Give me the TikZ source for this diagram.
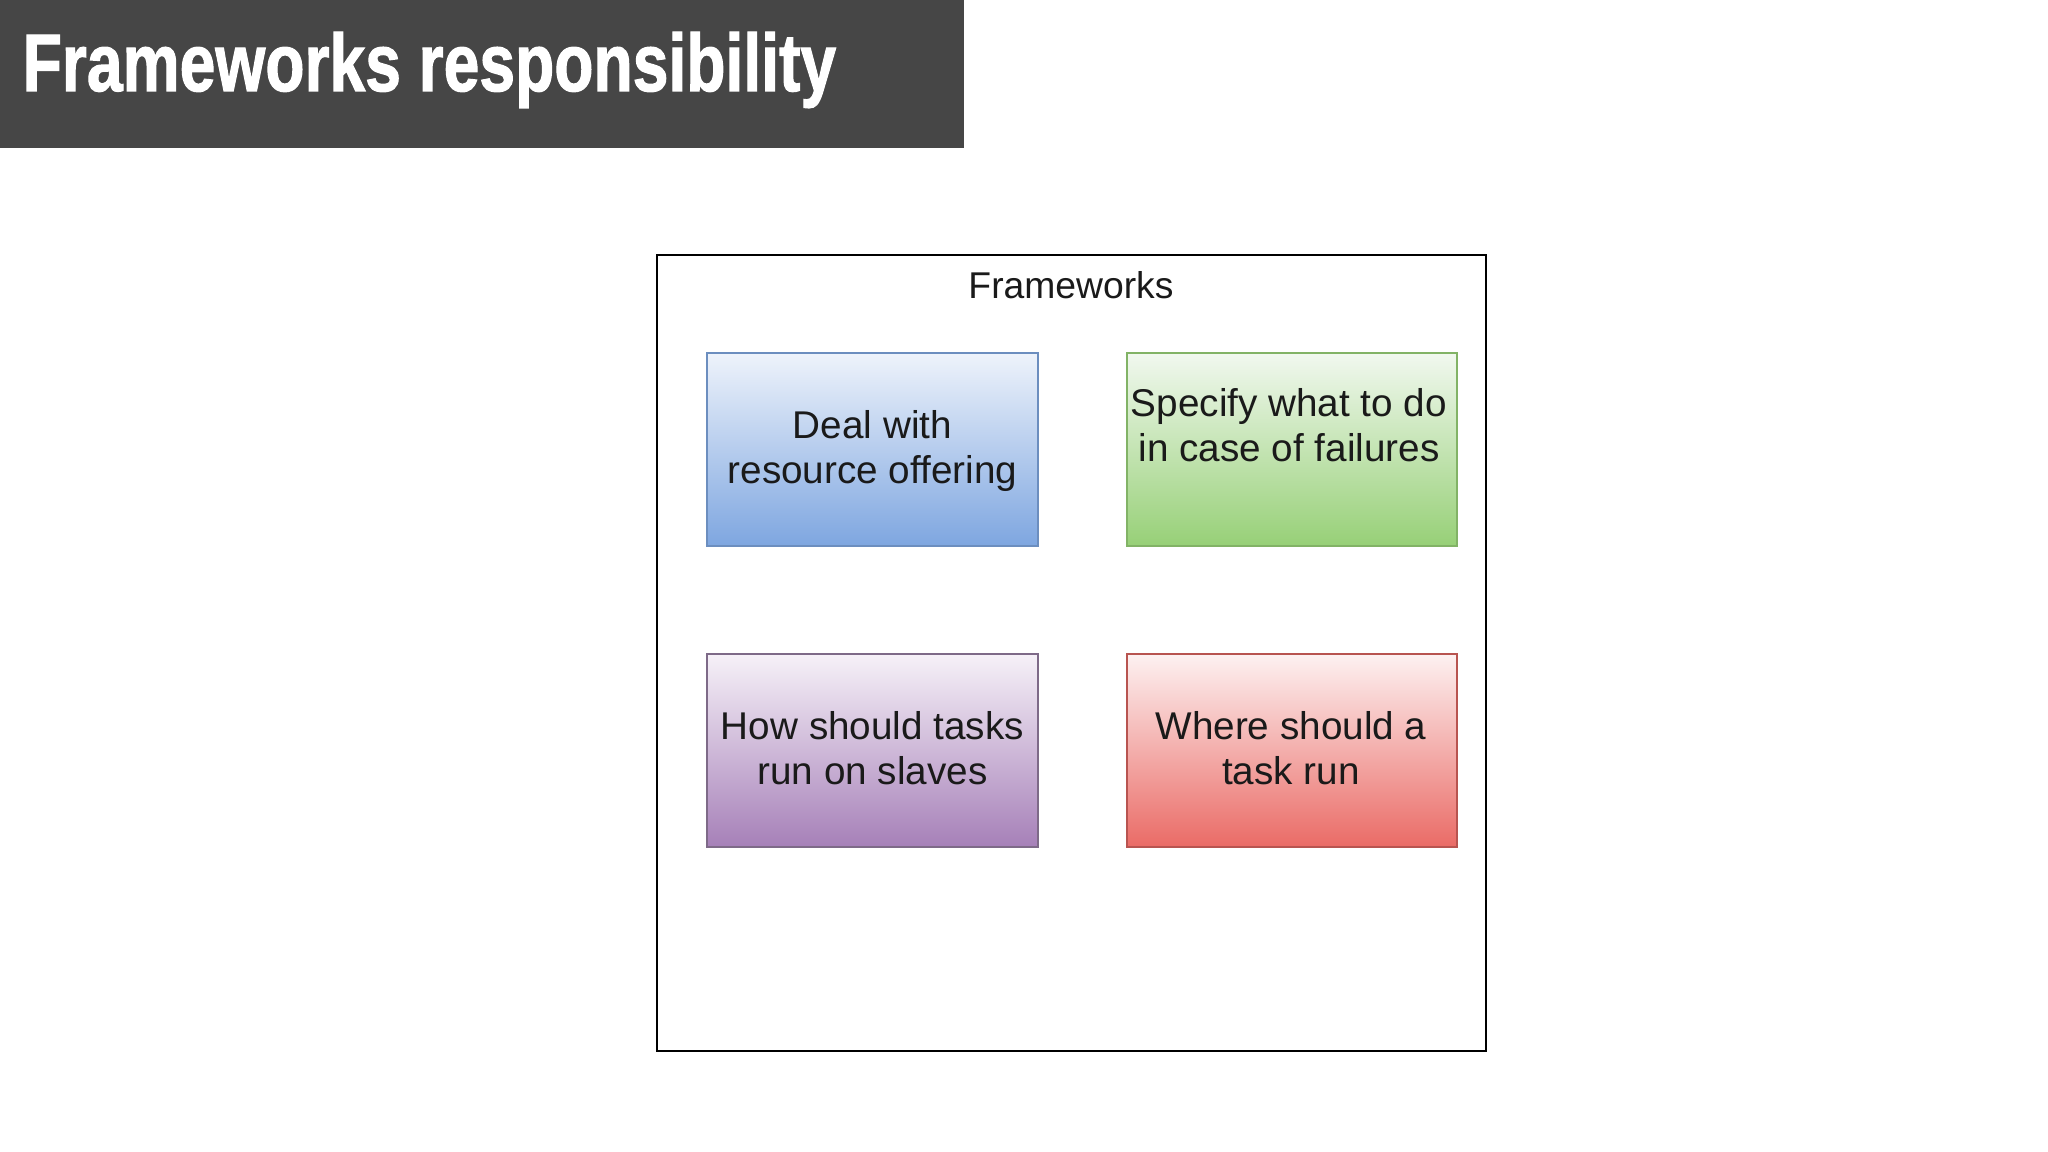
\documentclass[tikz,border=0pt]{standalone}
\usepackage{fontspec}
\usepackage{graphicx}
\setmainfont{Liberation Sans}
\newfontfamily\titlefont[FakeBold=1.6]{Liberation Sans Bold}
\definecolor{bargray}{HTML}{464646}
\definecolor{blueT}{HTML}{EEF3FB}
\definecolor{blueB}{HTML}{7EA6E0}
\definecolor{blueS}{HTML}{6C8EBF}
\definecolor{greenT}{HTML}{F1F8EF}
\definecolor{greenB}{HTML}{97D077}
\definecolor{greenS}{HTML}{82B366}
\definecolor{purpT}{HTML}{F6F1F8}
\definecolor{purpB}{HTML}{A680B8}
\definecolor{purpS}{HTML}{7E6A88}
\definecolor{redT}{HTML}{FDF1F1}
\definecolor{redB}{HTML}{EA6B66}
\definecolor{redS}{HTML}{B85450}
\definecolor{txt}{HTML}{1A1A1A}
\tikzset{
  card/.style={inner sep=0pt, align=center,
    text=txt, font=\fontsize{11}{12.8}\selectfont},
}
\begin{document}
\begin{tikzpicture}[x=0.01cm,y=-0.01cm]
\useasboundingbox (0,0) rectangle (2048,1152);
% title bar
\fill[bargray] (0,0) rectangle (964,148);
\node[anchor=base west, inner sep=0pt, text=white] (title) at (22,91)
  {\resizebox{8.13cm}{0.59cm}{\titlefont Frameworks responsibility}};
% outer frame
\draw[line width=0.6pt, black] (657,255) rectangle (1486,1051);
\node[font=\fontsize{10.6}{12}\selectfont, text=txt] (frame) at (1071,285) {Frameworks};
% cards
\shade[top color=blueT, bottom color=blueB] (707,353) rectangle (1038,546);
\draw[blueS, line width=0.45pt] (707,353) rectangle (1038,546);
\node[card] (deal) at (872.5,451) {Deal with\\resource offering};

\shade[top color=greenT, bottom color=greenB] (1127,353) rectangle (1457,546);
\draw[greenS, line width=0.45pt] (1127,353) rectangle (1457,546);
\node[card] (spec) at (1289,425) {Specify what to do\\in case of failures};

\shade[top color=purpT, bottom color=purpB] (707,654) rectangle (1038,847);
\draw[purpS, line width=0.45pt] (707,654) rectangle (1038,847);
\node[card] (how) at (872.5,748) {How should tasks\\run on slaves};

\shade[top color=redT, bottom color=redB] (1127,654) rectangle (1457,847);
\draw[redS, line width=0.45pt] (1127,654) rectangle (1457,847);
\node[card] (where) at (1291,748) {Where should a\\task run};
\end{tikzpicture}
\end{document}
